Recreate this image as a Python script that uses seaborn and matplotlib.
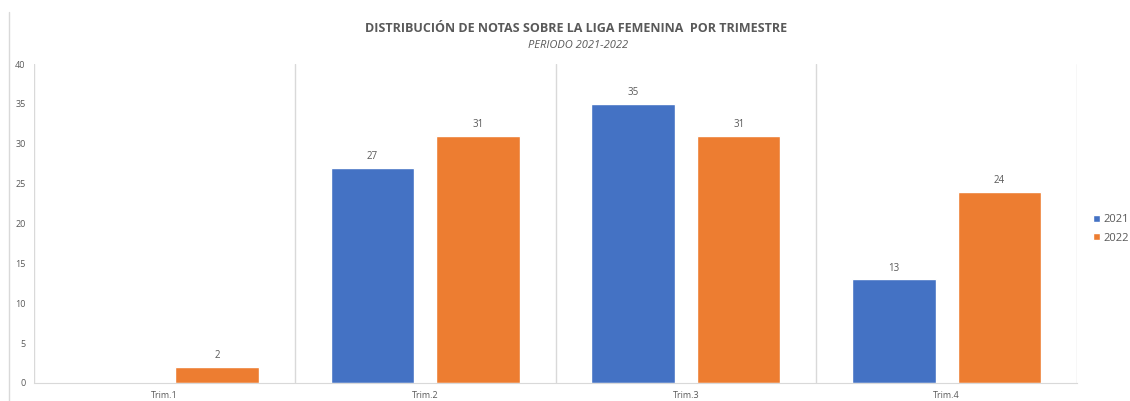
import matplotlib
matplotlib.use("Agg")

import pandas as pd
import matplotlib.pyplot as plt
import seaborn as sns
from matplotlib.lines import Line2D

# data
trimestres = ["Trim.1", "Trim.2", "Trim.3", "Trim.4"]
notas_2021 = [0, 27, 35, 13]
notas_2022 = [2, 31, 31, 24]
years = ["2021", "2022"]

df = pd.DataFrame({
    "Trimestre": trimestres * 2,
    "Año": [years[0]] * 4 + [years[1]] * 4,
    "Notas": notas_2021 + notas_2022,
})

sns.set_style("white")
plt.rcParams["font.family"] = ["Open Sans", "DejaVu Sans"]

txt = "#595959"
grid = "#D9D9D9"

fig = plt.figure(figsize=(11.30, 4.01), dpi=100)
ax = fig.add_axes([34 / 1130, 1 - 383 / 401, (1077 - 34) / 1130, (383 - 64) / 401])

sns.barplot(data=df, x="Trimestre", y="Notas", hue="Año", order=trimestres,
            palette=["#4472C4", "#ED7D31"], width=0.81, gap=0.21,
            saturation=1, ax=ax, legend=True)

ax.set_ylim(0, 40)
ax.set_xlim(-0.5, 3.5)
ax.set_yticks(range(0, 41, 5))
ax.tick_params(axis="both", length=0, labelsize=6.5, labelcolor=txt)
ax.tick_params(axis="x", pad=6)
ax.tick_params(axis="y", pad=6)
ax.set_xlabel("")
ax.set_ylabel("")

# category separators (vertical gridlines)
for xb in [-0.5, 0.5, 1.5, 2.5, 3.5]:
    ax.axvline(xb, color=grid, lw=1, zorder=0)
for s in ["top", "right", "left"]:
    ax.spines[s].set_visible(False)
ax.spines["bottom"].set_color(grid)

for cont in ax.containers:
    labels = [f"{int(v)}" if v > 0 else "" for v in cont.datavalues]
    ax.bar_label(cont, labels=labels, padding=4, fontsize=7, color=txt)

handles, labels = ax.get_legend_handles_labels()
ax.get_legend().remove()
fig.legend(handles, labels, loc="center left", bbox_to_anchor=(1093 / 1130, 1 - 229 / 401),
           frameon=False, fontsize=8, labelcolor=txt, handlelength=0.6,
           handleheight=0.6, handletextpad=0.3, labelspacing=0.7,
           borderpad=0, borderaxespad=0)

fig.text(576 / 1130, 1 - 28 / 401, "DISTRIBUCIÓN DE NOTAS SOBRE LA LIGA FEMENINA  POR TRIMESTRE",
         ha="center", va="center", fontsize=9, fontweight="bold", color=txt)
fig.text(578 / 1130, 1 - 45 / 401, "PERIODO 2021-2022", ha="center", va="center",
         fontsize=8, style="italic", color=txt)

# left edge of the chart frame
fig.lines.append(Line2D([9 / 1130, 9 / 1130], [0, 1 - 12 / 401],
                        transform=fig.transFigure, color=grid, lw=1))

fig.savefig("out.png", dpi=100)
plt.close("all")
